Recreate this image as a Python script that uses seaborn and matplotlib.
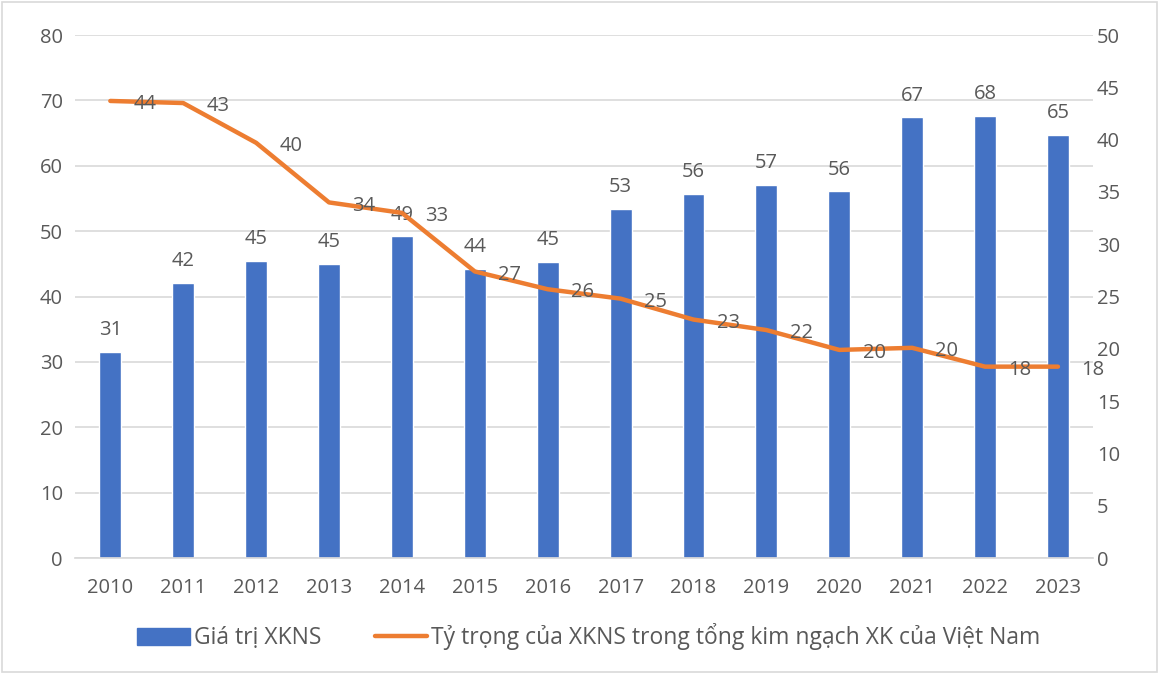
import numpy as np
import pandas as pd
import matplotlib.pyplot as plt
import seaborn as sns
from matplotlib.lines import Line2D
from matplotlib.patches import Patch, Rectangle

# chart data
years = ['2010', '2011', '2012', '2013', '2014', '2015', '2016',
         '2017', '2018', '2019', '2020', '2021', '2022', '2023']
gia_tri = [31.5, 42.1, 45.4, 45.0, 49.2, 44.2, 45.3,
           53.4, 55.7, 57.1, 56.1, 67.4, 67.6, 64.7]
ty_trong = [43.7, 43.5, 39.7, 34.0, 33.0, 27.4, 25.7,
            24.8, 22.8, 21.8, 19.9, 20.1, 18.3, 18.3]
bar_labels = ['31', '42', '45', '45', '49', '44', '45', '53', '56', '57', '56', '67', '68', '65']
line_labels = ['44', '43', '40', '34', '33', '27', '26', '25', '23', '22', '20', '20', '18', '18']

BLUE = '#4472C4'
ORANGE = '#ED7D31'
GREY = '#595959'
FS = 14.5

sns.set_theme(style='white')
plt.rcParams['font.family'] = ['Open Sans', 'DejaVu Sans']

df = pd.DataFrame({'year': years, 'gia_tri': gia_tri, 'ty_trong': ty_trong})
df['pos'] = np.arange(len(years))

fig = plt.figure(figsize=(11.59, 6.74), dpi=100)
ax = fig.add_axes([0.065, 0.172, 0.878, 0.776])

sns.barplot(data=df, x='year', y='gia_tri', color=BLUE, width=0.3, saturation=1, ax=ax)
ax.set_ylim(0, 80)
ax.set_yticks(range(0, 81, 10))
ax.set_xlim(-0.48, len(years) - 0.52)
ax.grid(axis='y', color='#D9D9D9', linewidth=1.2)
ax.set_axisbelow(True)
for s in ['top', 'right', 'left']:
    ax.spines[s].set_visible(False)
ax.spines['bottom'].set_color('#D9D9D9')
ax.set_xlabel('')
ax.set_ylabel('')
ax.tick_params(axis='both', labelsize=FS, colors=GREY, length=0)
ax.tick_params(axis='x', pad=14)
ax.tick_params(axis='y', pad=9)

for i, v in enumerate(gia_tri):
    ax.text(i, v + 1.8, bar_labels[i], ha='center', va='bottom', fontsize=FS, color=GREY)

ax2 = ax.twinx()
sns.lineplot(data=df, x='pos', y='ty_trong', color=ORANGE, linewidth=3.2, ax=ax2)
ax2.set_ylim(0, 50)
ax2.set_yticks(range(0, 51, 5))
ax2.set_xlim(-0.48, len(years) - 0.52)
for s in ['top', 'right', 'left', 'bottom']:
    ax2.spines[s].set_visible(False)
ax2.set_ylabel('')
ax2.set_xlabel('')
ax2.tick_params(axis='y', labelsize=FS, colors=GREY, length=0, pad=3)

for i, v in enumerate(ty_trong):
    ax2.text(i + 0.32, v - 0.3, line_labels[i], ha='left', va='center', fontsize=FS, color=GREY)

handles = [Patch(facecolor=BLUE, edgecolor=BLUE),
           Line2D([0], [0], color=ORANGE, linewidth=3.2)]
fig.legend(handles, ['Giá trị XKNS', 'Tỷ trọng của XKNS trong tổng kim ngạch XK của Việt Nam'],
           loc='center', bbox_to_anchor=(0.508, 0.055), ncol=2, frameon=False,
           fontsize=16.5, labelcolor=GREY, handlelength=2.3, handleheight=0.75,
           columnspacing=2.35, handletextpad=0.15)

fig.add_artist(Rectangle((0.002, 0.003), 0.996, 0.994, transform=fig.transFigure,
                         fill=False, edgecolor='#D9D9D9', linewidth=1.2))

fig.savefig('out.png', dpi=100)
